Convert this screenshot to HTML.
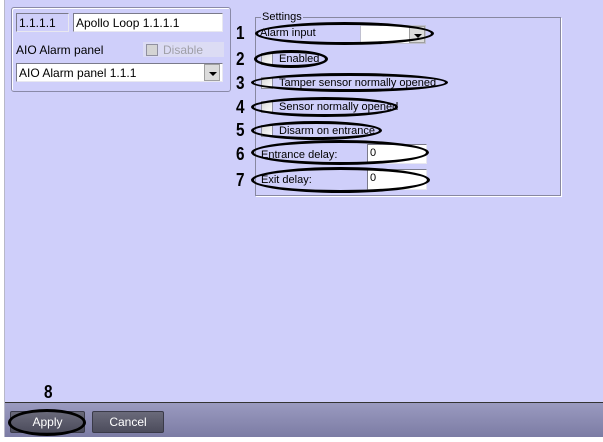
<!DOCTYPE html>
<html><head><style>
*{margin:0;padding:0;box-sizing:border-box}
body{width:603px;height:442px;background:#fff;position:relative;overflow:hidden;font-family:"Liberation Sans",sans-serif;font-size:11px;color:#000}
.a{position:absolute}
.bg{left:4px;top:0;width:599px;height:437px;background:#cfcffa;border-left:1px solid #b8b8c8}
.box{background:#fff;border:1px solid #7a7a8a;border-right-color:#e8e8f0;border-bottom-color:#e8e8f0}
.t{white-space:nowrap;line-height:14px;font-size:11px}
.cb{width:12px;height:12px;background:linear-gradient(135deg,#d8d8d8,#fff);border:1px solid #9090a0}
.dd{width:16px;background:#dcdcdc;border:1px solid #a0a0a0}
.dd:after{content:"";position:absolute;left:4px;top:7px;border-left:4px solid transparent;border-right:4px solid transparent;border-top:4px solid #000}
.n{font-weight:bold;font-size:18px;line-height:18px;transform:scaleX(0.85);transform-origin:left}
.e{border:3px solid #000;border-radius:50%}
.btn{background:linear-gradient(#6a6a7a,#4c4c5c);border:1px solid #3a3a48;border-radius:2px;color:#fff;text-align:center;line-height:21px;font-size:12px}
</style></head><body>
<div class="a bg"></div>
<div class="a" style="left:11px;top:7px;width:220px;height:85px;border:1px solid #8a8aa8;border-radius:3px;box-shadow:inset 1px 1px 0 #fff"></div>
<div class="a box t" style="left:16px;top:13px;width:53px;height:19px;background:#cfcffa;padding:2px 2px;font-size:12px">1.1.1.1</div>
<div class="a box t" style="left:73px;top:13px;width:150px;height:19px;padding:2px 2px;font-size:12px">Apollo Loop 1.1.1.1</div>
<div class="a t" style="left:16px;top:43px;font-size:12px">AIO Alarm panel</div>
<div class="a" style="left:143px;top:42px;width:81px;height:15px;background:#dcdcf4"></div>
<div class="a cb" style="left:146px;top:44px;background:#d4d4d4"></div>
<div class="a t" style="left:163px;top:43px;color:#a0a0a8;font-size:12px">Disable</div>
<div class="a box t" style="left:16px;top:63px;width:207px;height:19px;padding:2px 2px;font-size:12px">AIO Alarm panel 1.1.1</div>
<div class="a dd" style="left:204px;top:64px;height:17px"></div>
<div class="a" style="left:255px;top:17px;width:306px;height:179px;border:1px solid #8888a0;box-shadow:1px 1px 0 #fff"></div>
<div class="a t" style="left:261px;top:10px;background:#cfcffa;padding:0 1px">Settings</div>
<div class="a t" style="left:260px;top:26px">Alarm input</div>
<div class="a box" style="left:360px;top:25px;width:66px;height:19px;border-color:#c0c0d0"></div>
<div class="a dd" style="left:409px;top:26px;height:17px"></div>
<div class="a cb" style="left:261px;top:53px"></div><div class="a t" style="left:279px;top:52px">Enabled</div>
<div class="a cb" style="left:261px;top:77px"></div><div class="a t" style="left:279px;top:76px">Tamper sensor normally opened</div>
<div class="a cb" style="left:261px;top:101px"></div><div class="a t" style="left:279px;top:100px">Sensor normally opened</div>
<div class="a cb" style="left:261px;top:125px"></div><div class="a t" style="left:279px;top:124px">Disarm on entrance</div>
<div class="a t" style="left:261px;top:148px">Entrance delay:</div>
<div class="a box t" style="left:367px;top:144px;width:60px;height:20px;padding:1px 2px">0</div>
<div class="a t" style="left:261px;top:173px">Exit delay:</div>
<div class="a box t" style="left:367px;top:169px;width:60px;height:21px;padding:1px 2px">0</div>
<div class="a n" style="left:236px;top:24px">1</div>
<div class="a n" style="left:236px;top:50px">2</div>
<div class="a n" style="left:236px;top:74px">3</div>
<div class="a n" style="left:236px;top:98px">4</div>
<div class="a n" style="left:236px;top:121px">5</div>
<div class="a n" style="left:236px;top:145px">6</div>
<div class="a n" style="left:236px;top:171px">7</div>
<div class="a e" style="left:255px;top:22px;width:179px;height:23px"></div>
<div class="a e" style="left:254px;top:50px;width:74px;height:18px"></div>
<div class="a e" style="left:251px;top:73px;width:197px;height:19px"></div>
<div class="a e" style="left:251px;top:97px;width:147px;height:20px"></div>
<div class="a e" style="left:251px;top:121px;width:131px;height:19px"></div>
<div class="a e" style="left:251px;top:140px;width:178px;height:25px"></div>
<div class="a e" style="left:251px;top:167px;width:179px;height:26px"></div>
<div class="a n" style="left:44px;top:383px">8</div>
<div class="a" style="left:5px;top:402px;width:598px;height:35px;background:linear-gradient(#9a9ac0,#7c7ca4);border-top:1px solid #333"></div>
<div class="a btn" style="left:10px;top:411px;width:75px;height:22px">Apply</div>
<div class="a btn" style="left:92px;top:411px;width:72px;height:22px">Cancel</div>
<div class="a e" style="left:8px;top:409px;width:78px;height:27px"></div>
</body></html>
